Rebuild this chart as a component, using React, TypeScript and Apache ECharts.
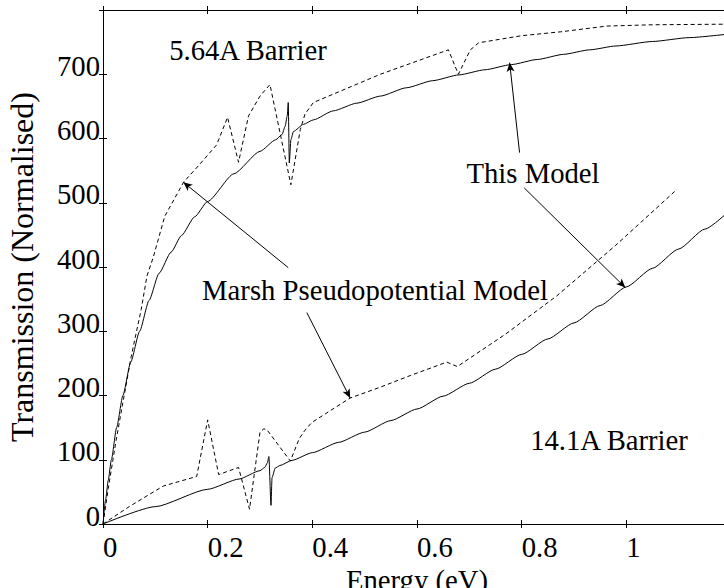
import React, { useEffect, useRef } from "react";
import * as echarts from "echarts";

const FONT = "Liberation Serif, Times New Roman, Times, serif";
const FS = 28.7;

// Transmission ticks shown on the left axis
const yTicks = [0, 100, 200, 300, 400, 500, 600, 700];

// 5.64A barrier, this model (solid)
const upperModel: number[][] = [
  [0, 0], [0.005, 38], [0.01, 68], [0.016, 100], [0.026, 150], [0.038, 200], [0.053, 252],
  [0.07, 300], [0.088, 348], [0.107, 390], [0.13, 423], [0.15, 449], [0.175, 478],
  [0.2, 502], [0.25, 545], [0.3, 580], [0.33, 598], [0.342, 606], [0.348, 619],
  [0.352, 635], [0.354, 656], [0.356, 562], [0.359, 598], [0.364, 611], [0.383, 622],
  [0.402, 629], [0.44, 643], [0.485, 655], [0.53, 666], [0.58, 679], [0.63, 690],
  [0.68, 699], [0.73, 707], [0.78, 715], [0.83, 723], [0.88, 731], [0.93, 738],
  [0.98, 744], [1.05, 751], [1.12, 757], [1.2, 763],
];

// 5.64A barrier, Marsh pseudopotential model (dashed)
const upperMarsh: number[][] = [
  [0, 0], [0.01, 55], [0.025, 130], [0.038, 189], [0.054, 261], [0.073, 334],
  [0.084, 386], [0.096, 415], [0.118, 479], [0.154, 532], [0.185, 560], [0.217, 590],
  [0.238, 633], [0.259, 563], [0.278, 635], [0.3, 666], [0.319, 684], [0.359, 528],
  [0.377, 614], [0.386, 638], [0.402, 656], [0.53, 700], [0.66, 738], [0.679, 700],
  [0.702, 738], [0.718, 749], [0.8, 760], [0.874, 766], [0.963, 775], [1.05, 777],
  [1.2, 778],
];

// 14.1A barrier, this model (solid)
const lowerModel: number[][] = [
  [0, 0], [0.1, 27], [0.2, 54], [0.26, 70], [0.3, 83], [0.309, 88], [0.314, 95],
  [0.317, 105], [0.321, 29], [0.323, 72], [0.329, 87], [0.338, 91], [0.361, 99],
  [0.4, 111], [0.45, 127], [0.5, 143], [0.55, 161], [0.6, 179], [0.65, 199],
  [0.7, 219], [0.75, 241], [0.8, 264], [0.85, 288], [0.9, 313], [0.95, 340],
  [1.0, 369], [1.05, 398], [1.1, 428], [1.15, 459], [1.2, 490],
];

// 14.1A barrier, Marsh pseudopotential model (dashed)
const lowerMarsh: number[][] = [
  [0, 0], [0.05, 27], [0.115, 59], [0.179, 74], [0.2, 162], [0.221, 77], [0.259, 88],
  [0.28, 23], [0.3, 143], [0.307, 148], [0.313, 147], [0.358, 98], [0.375, 133],
  [0.386, 146], [0.399, 158], [0.472, 196], [0.53, 213], [0.587, 231], [0.657, 252],
  [0.677, 245], [0.77, 296], [0.867, 355], [0.98, 434], [1.097, 521],
];

// annotation arrows: [from, to] in data coordinates
const arrows: number[][][] = [
  [[0.354, 399], [0.1535, 532]],
  [[0.3895, 329], [0.4723, 196]],
  [[0.796, 578], [0.777, 718]],
  [[0.805, 523], [0.998, 368]],
];

const annotations = [
  { text: "5.64A Barrier", x: 248, y: 50 },
  { text: "This Model", x: 533, y: 173 },
  { text: "Marsh Pseudopotential Model", x: 375, y: 290 },
  { text: "14.1A Barrier", x: 609, y: 440 },
];

function fmt(v: number) {
  return String(Math.round(v * 10) / 10);
}

export default function App() {
  const ref = useRef<HTMLDivElement>(null);
  useEffect(() => {
    if (!ref.current) return;
    const chart = echarts.init(ref.current, undefined, { renderer: "svg" });
    const black = "#000";
    const baseX = {
      type: "value" as const,
      min: 0,
      max: 1.2,
      interval: 0.2,
      splitLine: { show: false },
      gridIndex: 0,
    };
    const baseY = {
      type: "value" as const,
      min: 0,
      max: 800,
      interval: 100,
      splitLine: { show: false },
      gridIndex: 0,
    };
    const lineS = (data: number[][], dashed: boolean, extra: any = {}) => ({
      type: "line",
      data,
      showSymbol: false,
      symbol: "none",
      smooth: dashed ? false : 0.2,
      smoothMonotone: "x",
      lineStyle: { color: black, width: 1, type: dashed ? [4, 3] : "solid" },
      silent: true,
      z: 3,
      ...extra,
    });
    chart.setOption({
      animation: false,
      backgroundColor: "#fff",
      textStyle: { fontFamily: FONT },
      grid: {
        left: 103,
        top: 10,
        right: -7,
        bottom: 64,
        outerBoundsMode: "none",
        containLabel: false,
      },
      xAxis: [
        {
          ...baseX,
          position: "bottom",
          name: "Energy (eV)",
          nameLocation: "middle",
          nameGap: 30,
          nameTextStyle: { fontFamily: FONT, fontSize: FS, color: black },
          axisLine: { show: true, lineStyle: { color: black, width: 1 } },
          axisTick: { show: true, inside: true, length: 4, lineStyle: { color: black } },
          axisLabel: {
            show: true,
            fontFamily: FONT,
            fontSize: FS,
            color: black,
            align: "left",
            margin: 8,
            formatter: (v: number) => (v > 1.05 ? "" : fmt(v)),
          },
        },
        {
          ...baseX,
          position: "bottom",
          axisLine: { show: false },
          axisTick: { show: true, inside: false, length: 4, lineStyle: { color: black } },
          axisLabel: { show: false },
        },
        {
          ...baseX,
          position: "top",
          axisLine: { show: true, lineStyle: { color: black, width: 1 } },
          axisTick: { show: true, inside: true, length: 4, lineStyle: { color: black } },
          axisLabel: { show: false },
        },
        {
          ...baseX,
          position: "top",
          axisLine: { show: false },
          axisTick: { show: true, inside: false, length: 4, lineStyle: { color: black } },
          axisLabel: { show: false },
        },
      ],
      yAxis: [
        {
          ...baseY,
          position: "left",
          name: "Transmission (Normalised)",
          nameLocation: "middle",
          nameGap: 65,
          nameRotate: 90,
          nameTextStyle: { fontFamily: FONT, fontSize: 32, color: black },
          axisLine: { show: true, lineStyle: { color: black, width: 1 } },
          axisTick: { show: true, inside: true, length: 4, lineStyle: { color: black } },
          axisLabel: {
            show: true,
            fontFamily: FONT,
            fontSize: FS,
            color: black,
            margin: 3,
            verticalAlign: "bottom",
            lineHeight: 17,
            formatter: (v: number) => (yTicks.indexOf(v) >= 0 ? String(v) : ""),
          },
        },
        {
          ...baseY,
          position: "left",
          axisLine: { show: false },
          axisTick: { show: true, inside: false, length: 4, lineStyle: { color: black } },
          axisLabel: { show: false },
        },
      ],
      series: [
        lineS(upperModel, false, {
          markLine: {
            silent: true,
            symbol: ["none", "arrow"],
            symbolSize: [6, 9],
            label: { show: false },
            lineStyle: { color: black, width: 1, type: "solid" },
            data: arrows.map((a) => [{ coord: a[0] }, { coord: a[1] }]),
          },
        }),
        lineS(upperMarsh, true),
        lineS(lowerModel, false),
        lineS(lowerMarsh, true),
      ],
      graphic: annotations.map((a) => ({
        type: "text",
        x: a.x,
        y: a.y,
        silent: true,
        z: 10,
        style: {
          text: a.text,
          font: `${FS}px ${FONT}`,
          fill: black,
          align: "center",
          verticalAlign: "middle",
          textAlign: "center",
          textVerticalAlign: "middle",
        },
      })),
    });
    return () => chart.dispose();
  }, []);
  return (
    <div
      ref={ref}
      style={{ position: "fixed", left: 0, top: 0, width: 724, height: 588, background: "#fff" }}
    />
  );
}
